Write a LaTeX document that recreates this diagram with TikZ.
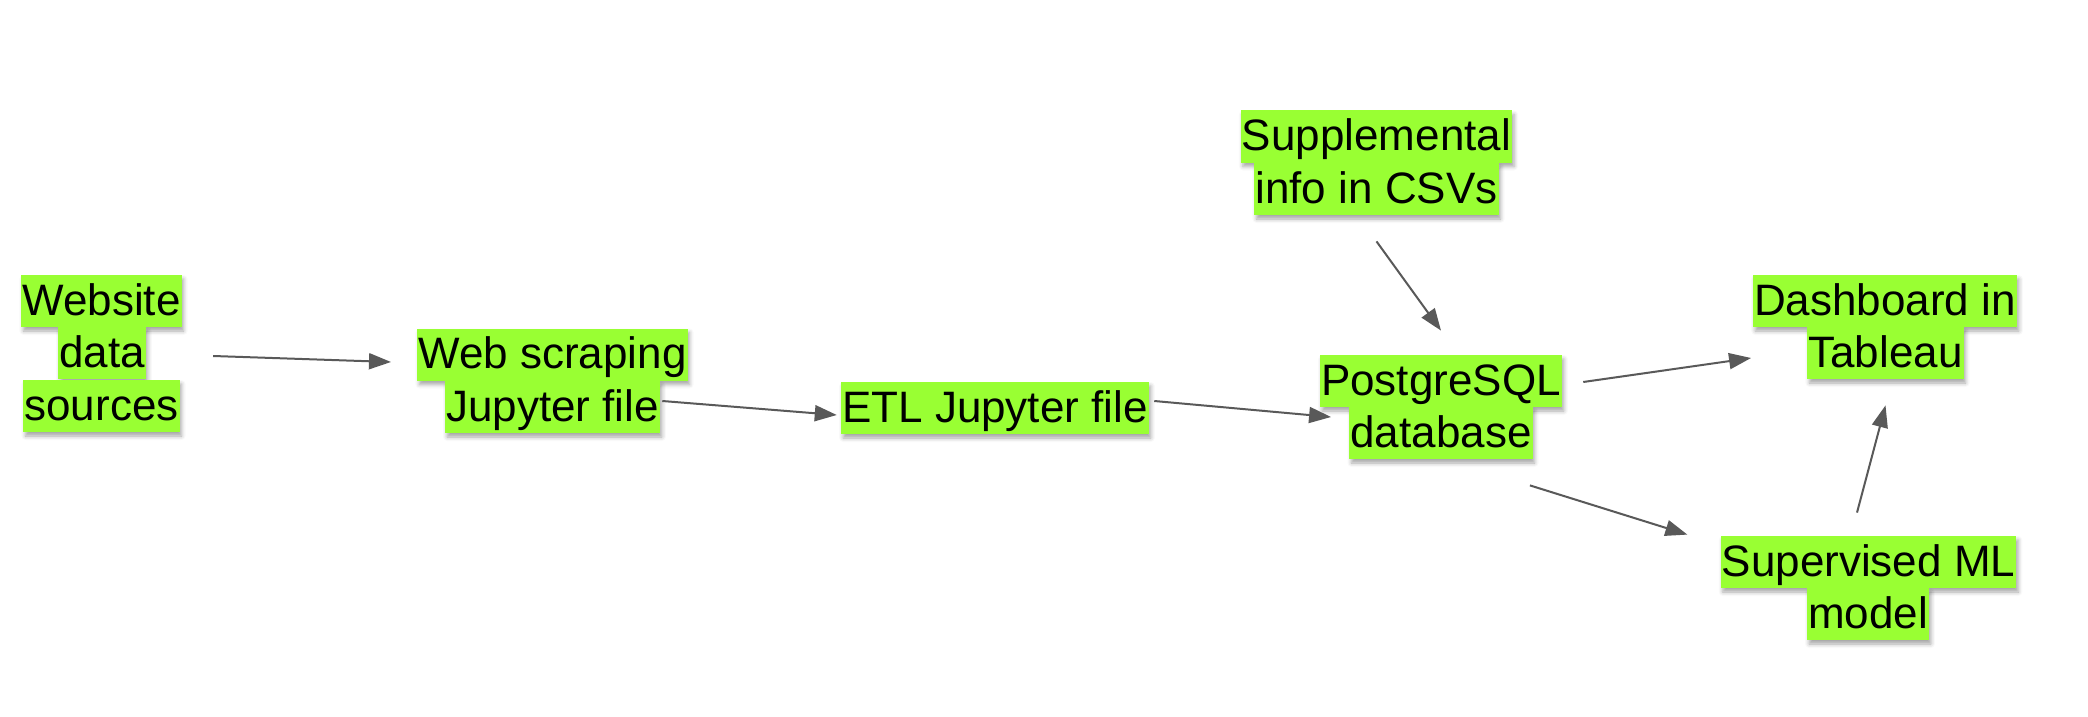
\documentclass[tikz,border=0pt]{standalone}
\usepackage{fontspec}
\setmainfont{Liberation Sans}
\usetikzlibrary{arrows.meta,calc,shadows.blur}
\definecolor{hl}{RGB}{153,255,51}
\definecolor{arrowgrey}{RGB}{89,89,89}
\tikzset{
  x=0.5pt,y=-0.5pt,
  ln/.style={fill=hl, inner xsep=0.5pt, inner ysep=0pt, text height=20pt, text depth=6pt,
    font=\fontsize{22pt}{26pt}\selectfont, text=black,
    blur shadow={shadow xshift=1pt, shadow yshift=-2pt, shadow blur radius=2pt, shadow opacity=35}},
  arr/.style={draw=arrowgrey, line width=1pt, -{Triangle[length=11pt,width=8pt]}}
}
\begin{document}
\begin{tikzpicture}
\useasboundingbox (0,0) rectangle (2088,717);
% Website data sources
\node[ln] (web1) at (101.5,301) {Website};
\node[ln] (web2) at (102,353) {data};
\node[ln] (web3) at (101.5,406) {sources};
% Web scraping
\node[ln] (scr1) at (552.5,354.5) {Web scraping};
\node[ln] (scr2) at (552.5,407) {Jupyter file};
% ETL
\node[ln] (etl) at (995,408) {ETL Jupyter file};
% Supplemental
\node[ln] (sup1) at (1376.5,136.5) {Supplemental};
\node[ln] (sup2) at (1376.5,189) {info in CSVs};
% PostgreSQL
\node[ln] (pg1) at (1441,381) {PostgreSQL};
\node[ln] (pg2) at (1441,433) {database};
% Dashboard
\node[ln] (dash1) at (1885,301) {Dashboard in};
\node[ln] (dash2) at (1885.5,353) {Tableau};
% ML
\node[ln] (ml1) at (1868.5,562) {Supervised ML};
\node[ln] (ml2) at (1868,614) {model};
% connectors
\draw[arr] ($(web2.east)+(67,3)$) -- ($(scr1.west)+(-26,7.5)$);
\draw[arr] ($(scr2.east)+(2,-6)$) -- ($(etl.west)+(-4,7)$);
\draw[arr] ($(etl.east)+(5,-7)$) -- ($(pg2.west)+(-18,-16)$);
\draw[arr] ($(sup2.south)+(0,26)$) -- ($(pg1.north)+(0,-24)$);
\draw[arr] ($(pg1.east)+(21,1)$) -- ($(dash2.west)+(-56,5)$);
\draw[arr] ($(pg2.south east)+(-3,26)$) -- ($(ml1.north west)+(-33,-1)$);
\draw[arr] ($(ml1.north)+(-11.5,-23)$) -- ($(dash2.south)+(0,26)$);
\end{tikzpicture}
\end{document}
